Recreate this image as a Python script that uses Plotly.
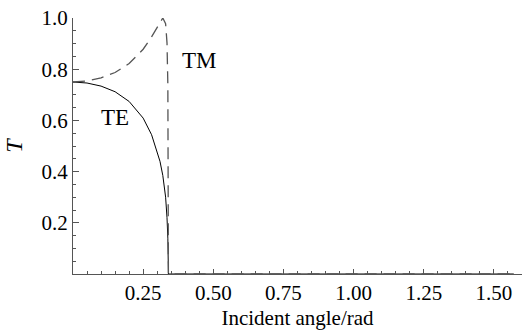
import plotly.graph_objects as go

# Incident angle (rad) and transmission
angle = [0.0, 0.05, 0.10, 0.15, 0.20, 0.25, 0.28, 0.30, 0.31, 0.32, 0.33, 0.335, 0.338, 0.340,
         0.50, 0.75, 1.00, 1.25, 1.5708]
T_TE = [0.750, 0.746, 0.734, 0.712, 0.674, 0.609, 0.544, 0.479, 0.440, 0.385, 0.300, 0.220, 0.140, 0.0,
        0.0, 0.0, 0.0, 0.0, 0.0]
T_TM = [0.750, 0.754, 0.766, 0.787, 0.822, 0.878, 0.926, 0.966, 0.986, 1.000, 0.978, 0.903, 0.740, 0.0,
        0.0, 0.0, 0.0, 0.0, 0.0]

x_ticks = [0.25, 0.50, 0.75, 1.00, 1.25, 1.50]
y_ticks = [0.2, 0.4, 0.6, 0.8, 1.0]

FONT = "Liberation Serif, Times New Roman, serif"
AX = "#555555"

fig = go.Figure()
fig.add_trace(go.Scatter(x=angle, y=T_TE, mode="lines", name="TE",
                         line=dict(color="black", width=1)))
fig.add_trace(go.Scatter(x=angle, y=T_TM, mode="lines", name="TM",
                         line=dict(color="#555555", width=1.3, dash="12px,7px")))

fig.add_annotation(x=0.15, y=0.61, text="TE", showarrow=False,
                   font=dict(family=FONT, size=23, color="black"))
fig.add_annotation(x=0.45, y=0.833, text="TM", showarrow=False,
                   font=dict(family=FONT, size=23, color="black"))

fig.update_xaxes(range=[0, 1.6], tickmode="array", tickvals=x_ticks,
                 ticktext=[f"{v:.2f}" for v in x_ticks],
                 ticks="inside", ticklen=5, tickcolor=AX, tickwidth=1,
                 showline=True, linecolor=AX, linewidth=1,
                 showgrid=False, zeroline=False,
                 minor=dict(tickmode="linear", tick0=0, dtick=0.05, ticks="inside",
                            ticklen=3, tickcolor=AX, showgrid=False),
                 tickfont=dict(family=FONT, size=21, color="black"),
                 title=dict(text="Incident angle/rad", standoff=6,
                            font=dict(family=FONT, size=21, color="black")))
fig.update_yaxes(range=[0, 1.0], tickmode="array", tickvals=y_ticks,
                 ticktext=[f"{v:.1f}" for v in y_ticks],
                 ticks="inside", ticklen=6, tickcolor=AX, tickwidth=1,
                 showline=True, linecolor=AX, linewidth=1,
                 showgrid=False, zeroline=False,
                 minor=dict(tickmode="linear", tick0=0, dtick=0.05, ticks="inside",
                            ticklen=3, tickcolor=AX, showgrid=False),
                 tickfont=dict(family=FONT, size=21, color="black"),
                 title=dict(text="<i>T</i>", standoff=12,
                            font=dict(family=FONT, size=24, color="black")))

fig.update_layout(width=522, height=332, showlegend=False,
                  margin=dict(l=73, r=0, t=18, b=58),
                  paper_bgcolor="white", plot_bgcolor="white")

fig.write_html("out.html")
